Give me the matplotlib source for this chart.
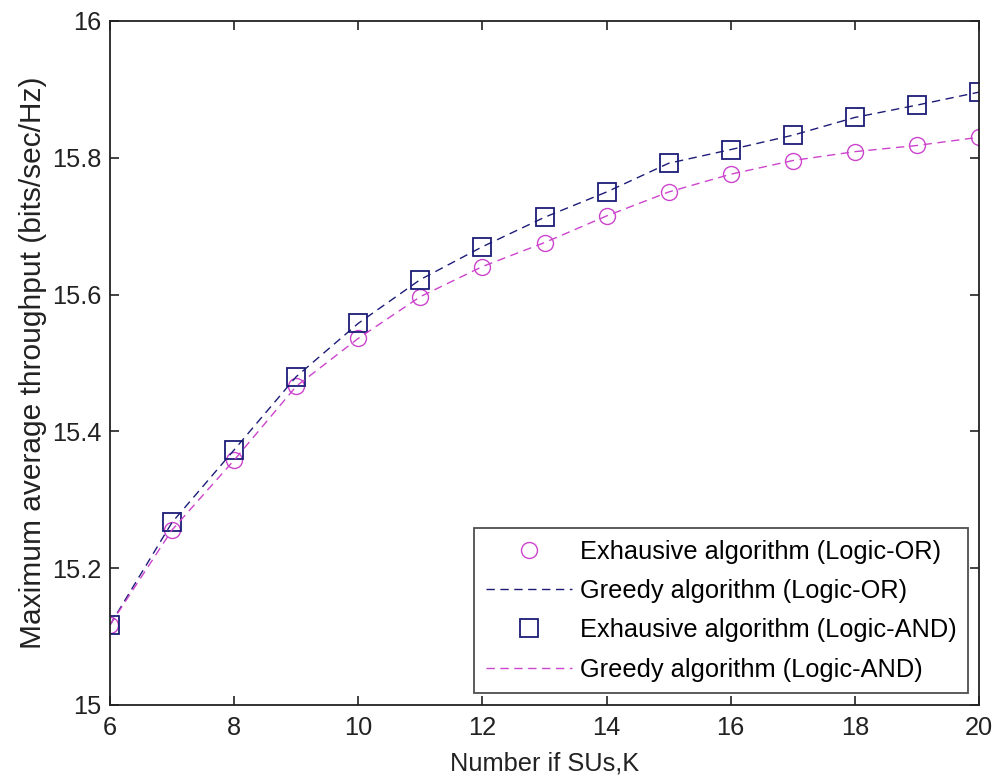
import matplotlib
matplotlib.use("Agg")
import matplotlib.pyplot as plt
from matplotlib.ticker import FixedLocator, FuncFormatter

plt.rcParams['font.family'] = ['Liberation Sans', 'DejaVu Sans']

K = [6, 7, 8, 9, 10, 11, 12, 13, 14, 15, 16, 17, 18, 19, 20]
upper = [15.117, 15.267, 15.373, 15.480, 15.558, 15.622, 15.670, 15.713,
         15.750, 15.792, 15.812, 15.833, 15.859, 15.877, 15.896]
lower = [15.117, 15.256, 15.358, 15.466, 15.536, 15.597, 15.641, 15.676,
         15.715, 15.750, 15.776, 15.796, 15.809, 15.818, 15.830]

exh_or = lower
greedy_or = upper
exh_and = upper
greedy_and = lower

labels = ["Exhausive algorithm (Logic-OR)", "Greedy algorithm (Logic-OR)",
          "Exhausive algorithm (Logic-AND)", "Greedy algorithm (Logic-AND)"]
xticks = [6, 8, 10, 12, 14, 16, 18, 20]
yticks = [15, 15.2, 15.4, 15.6, 15.8, 16]

mag = '#cc44cc'
navy = '#1c1c78'
fs = 18.3

fig = plt.figure(figsize=(9.96, 7.76), dpi=100)
ax = fig.add_axes([110/996, 1-705/776, (979-110)/996, (705-21)/776])

ax.plot(K, exh_or, linestyle='none', marker='o', markersize=11.5,
        markerfacecolor='none', markeredgecolor=mag, markeredgewidth=1.0, label=labels[0])
ax.plot(K, greedy_or, linestyle=(0, (6, 4)), color=navy, linewidth=1.0, label=labels[1])
ax.plot(K, exh_and, linestyle='none', marker='s', markersize=12.5,
        markerfacecolor='none', markeredgecolor=navy, markeredgewidth=1.3, label=labels[2])
ax.plot(K, greedy_and, linestyle=(0, (6, 4)), color=mag, linewidth=1.0, label=labels[3])

ax.set_xlim(6, 20)
ax.set_ylim(15, 16)
ax.xaxis.set_major_locator(FixedLocator(xticks))
ax.yaxis.set_major_locator(FixedLocator(yticks))
ax.yaxis.set_major_formatter(FuncFormatter(lambda v, p: ('%g' % v)))
ax.tick_params(direction='in', length=6.5, width=1.2, top=True, right=True,
               labelsize=fs, colors='#222222')
ax.tick_params(axis='x', pad=8)
ax.tick_params(axis='y', pad=6)
for s in ax.spines.values():
    s.set_linewidth(1.3)
    s.set_color('#222222')

ax.set_xlabel("Number if SUs,K", fontsize=fs, color='#222222', labelpad=8)
ax.set_ylabel("Maximum average throughput (bits/sec/Hz)", fontsize=21.5, color='#222222', labelpad=4)

leg = ax.legend(loc='lower right', bbox_to_anchor=(968/996, 1-693/776), bbox_transform=fig.transFigure,
                fontsize=fs, frameon=True, fancybox=False, edgecolor='#222222',
                handlelength=3.4, handletextpad=0.3, borderpad=0.45, labelspacing=0.6,
                borderaxespad=0)
leg.get_frame().set_linewidth(1.3)

fig.savefig("out.png", dpi=100, facecolor='white')
